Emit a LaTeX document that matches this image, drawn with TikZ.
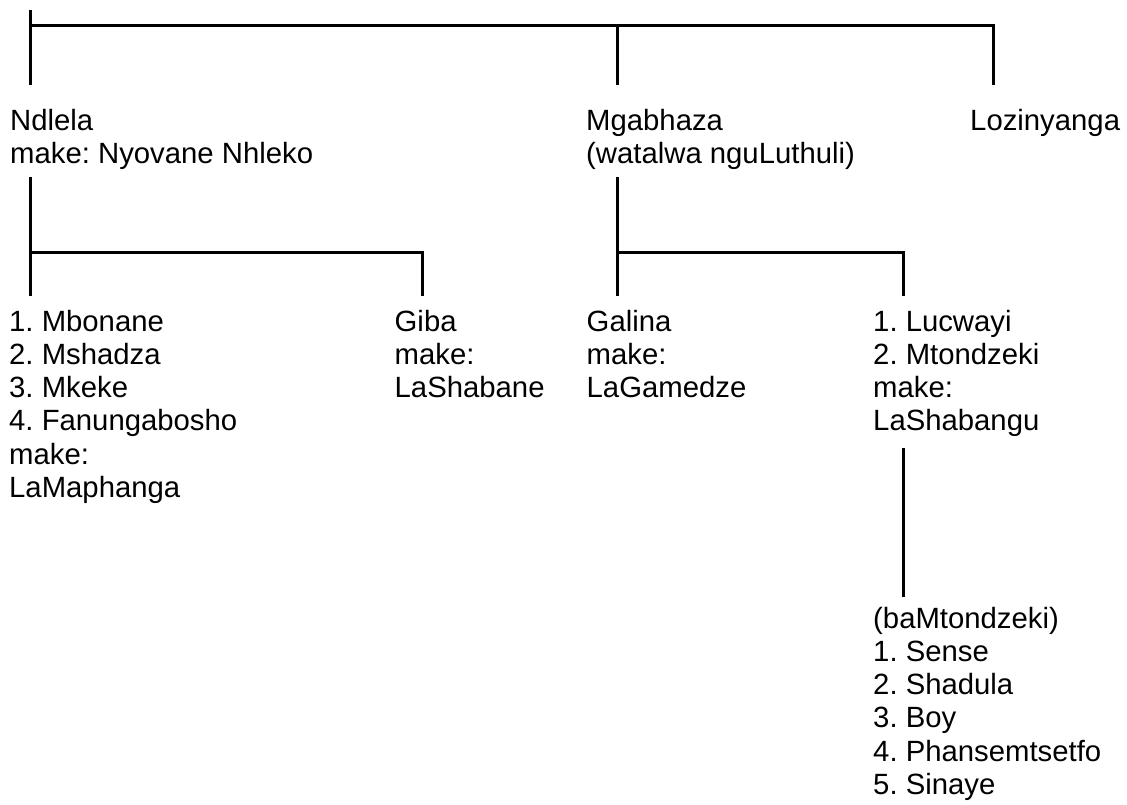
\documentclass[tikz,border=0pt]{standalone}
\usepackage{fontspec}
\setmainfont{Liberation Sans}
\usepackage{tikz}
\usetikzlibrary{positioning,calc}
\frenchspacing

\tikzset{
  person/.style={anchor=base west,inner sep=0pt,align=left,
    font=\fontsize{29.3}{33.3}\selectfont},
  link/.style={line width=3pt}
}

\begin{document}
\begin{tikzpicture}[x=1pt,y=-1pt]
  \useasboundingbox (0,0) rectangle (1127,804);
  % first generation (placed at the baseline of the last line)
  \node[person] (ndlela) at (10,163.8) {Ndlela\\make: Nyovane Nhleko};
  \node[person] (mgabhaza) at (586,163.8) {Mgabhaza\\(watalwa nguLuthuli)};
  \node[person] (lozi) at (970,130.5) {Lozinyanga};
  % children of Ndlela and Mgabhaza
  \node[person] (mbonane) at (9,497.5)
    {1. Mbonane\\2. Mshadza\\3. Mkeke\\4. Fanungabosho\\make:\\LaMaphanga};
  \node[person] (giba) at (394.5,397.6) {Giba\\make:\\LaShabane};
  \node[person] (galina) at (586.5,397.6) {Galina\\make:\\LaGamedze};
  \node[person] (lucwayi) at (873,430.9)
    {1. Lucwayi\\2. Mtondzeki\\make:\\LaShabangu};
  \node[person] (bamtondzeki) at (873,794.5)
    {(baMtondzeki)\\1. Sense\\2. Shadula\\3. Boy\\4. Phansemtsetfo\\5. Sinaye};

  % connectors
  \coordinate (root) at (30,10);
  \coordinate (bar1) at (0,25);
  \coordinate (ndlela in) at (30,85);
  \coordinate (mgabhaza in) at (617,85);
  \coordinate (lozi in) at (993.5,85);
  \draw[link] (root) -- (ndlela in);
  \draw[link] (ndlela in |- bar1) -| (lozi in);
  \draw[link] (mgabhaza in |- bar1) -- (mgabhaza in);

  \coordinate (bar2) at (0,252);
  \coordinate (ndlela out) at (30,177);
  \coordinate (mbonane in) at (30,296);
  \coordinate (giba in) at (422,296);
  \draw[link] (ndlela out) -- (mbonane in);
  \draw[link] (ndlela out |- bar2) -| (giba in);

  \coordinate (mgabhaza out) at (617,177);
  \coordinate (galina in) at (617,296);
  \coordinate (lucwayi in) at (903.5,296);
  \draw[link] (mgabhaza out) -- (galina in);
  \draw[link] (mgabhaza out |- bar2) -| (lucwayi in);

  \coordinate (lucwayi out) at (903.5,448);
  \coordinate (sons in) at (903.5,597);
  \draw[link] (lucwayi out) -- (sons in);
\end{tikzpicture}
\end{document}
